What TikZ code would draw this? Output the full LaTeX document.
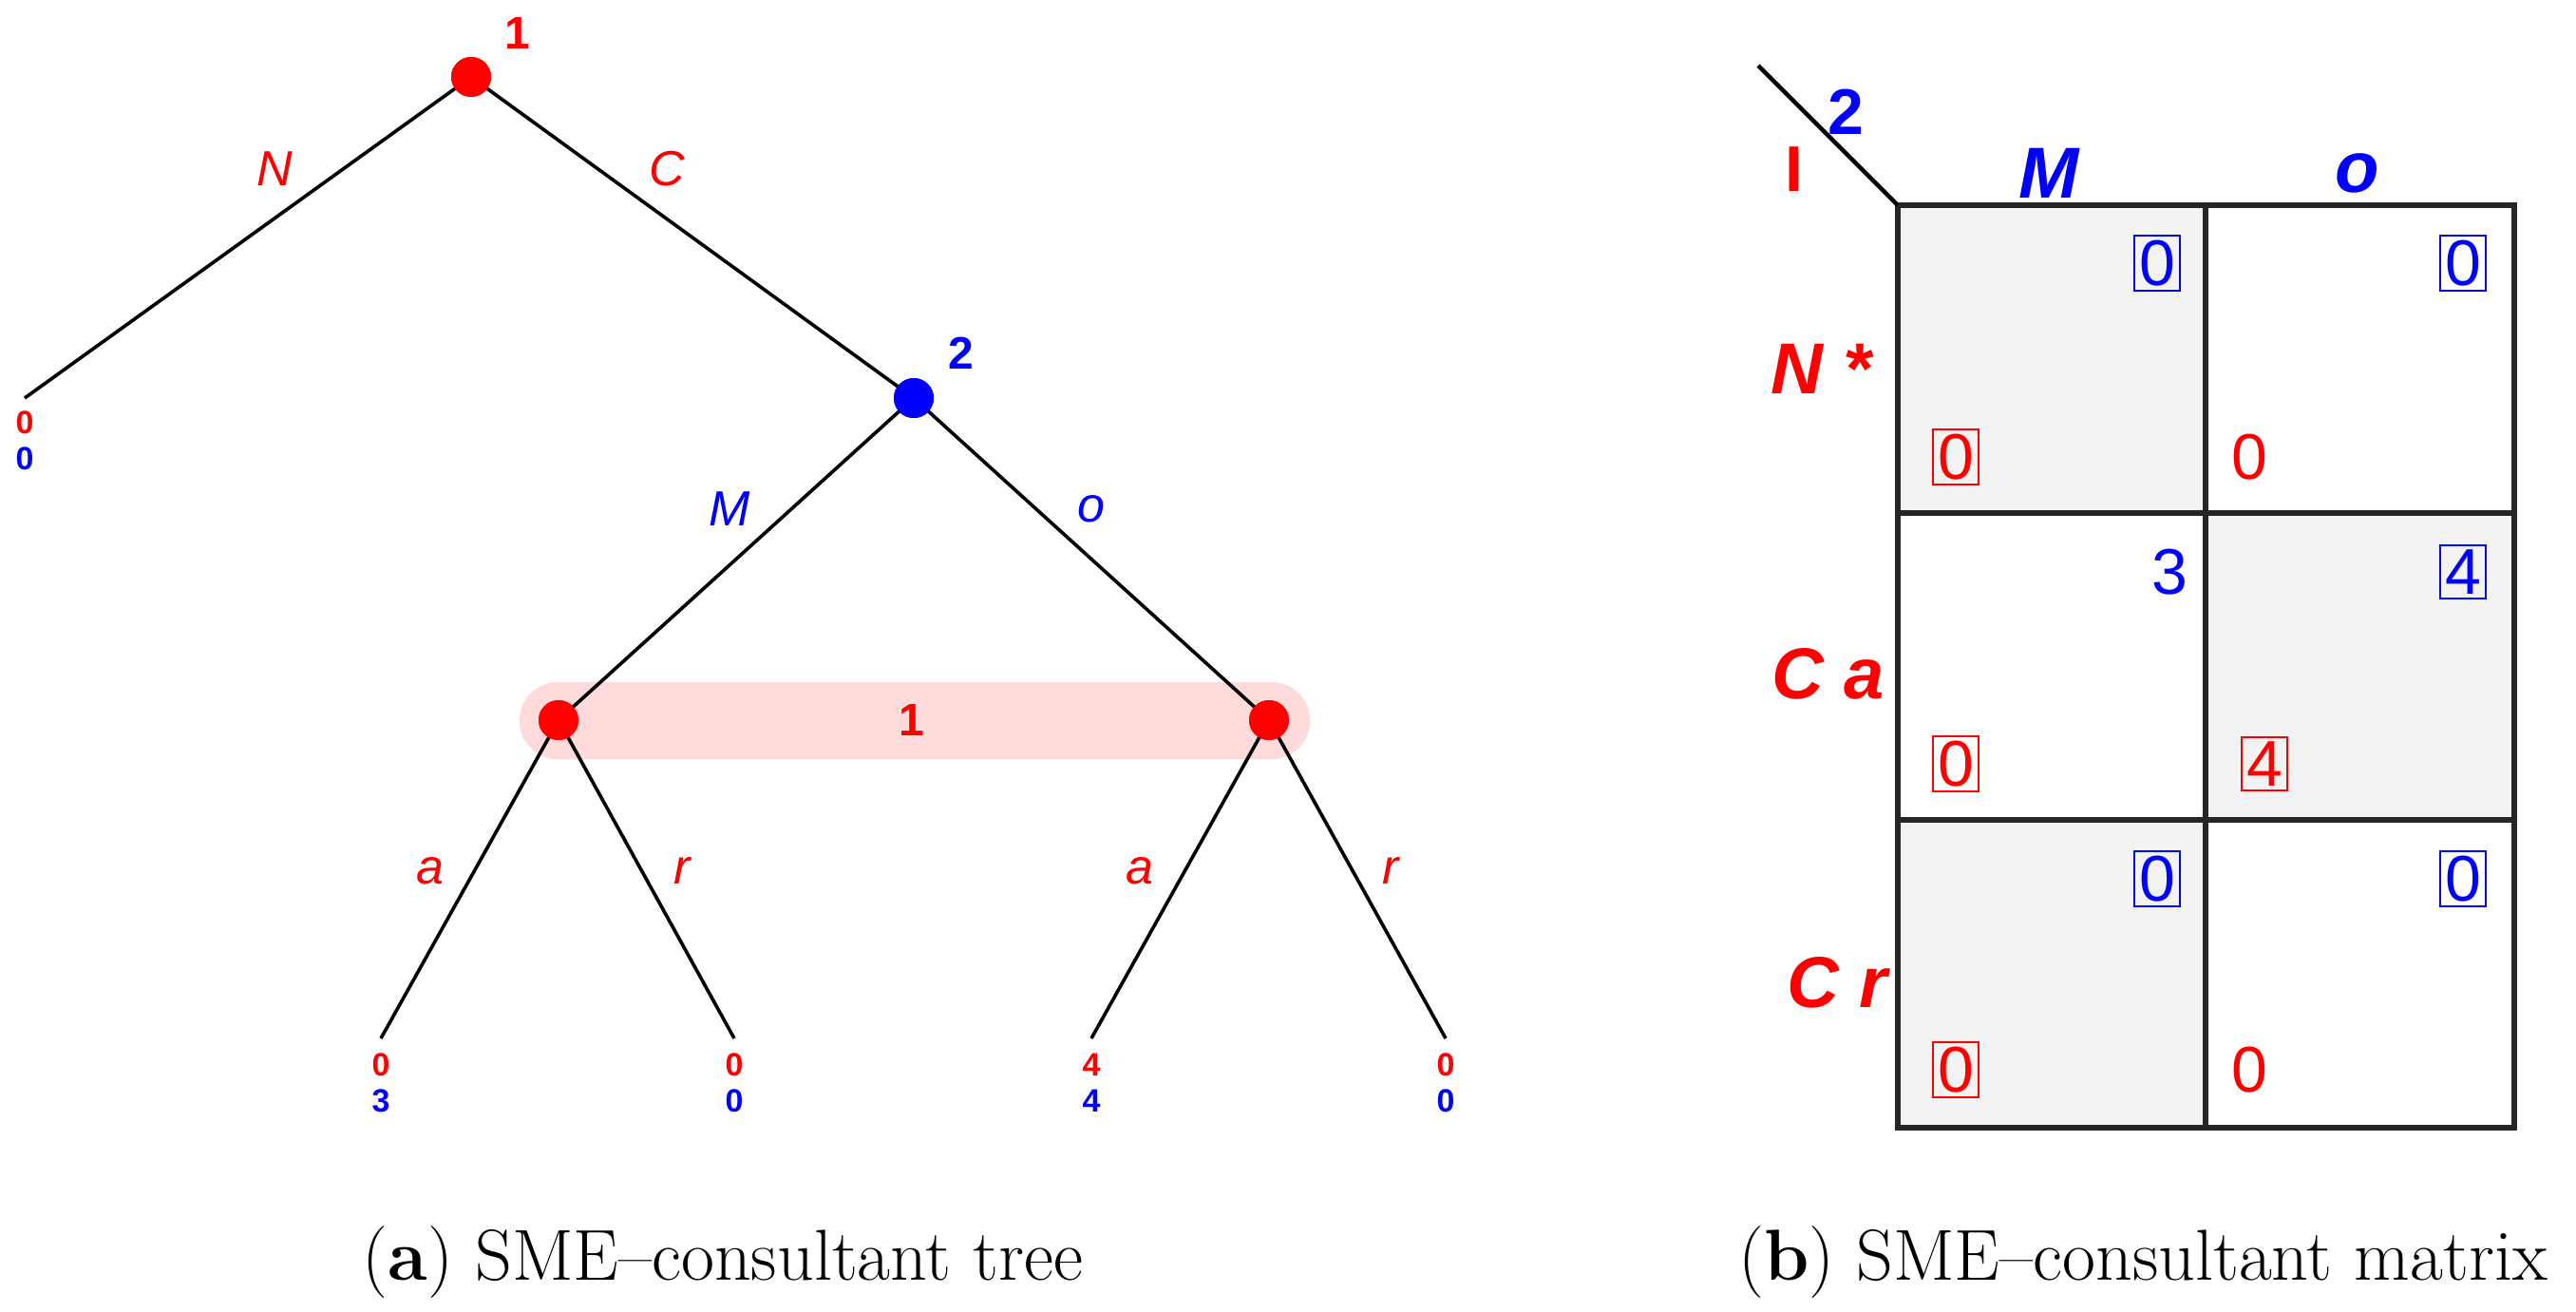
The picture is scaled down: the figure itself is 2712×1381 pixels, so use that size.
\documentclass[tikz,border=0pt]{standalone}
\usepackage{fontspec}
\setsansfont{Liberation Sans}
\definecolor{rd}{RGB}{255,0,0}
\definecolor{bl}{RGB}{0,0,255}
\definecolor{pinkband}{RGB}{255,218,218}
\definecolor{cellgray}{RGB}{243,243,243}
\begin{document}
\begin{tikzpicture}[x=0.25pt,y=-0.25pt,
  edge/.style={line width=0.9pt,black},
  dotnode/.style={circle,inner sep=0pt,minimum size=10.5pt},
  act/.style={font=\sffamily\itshape\fontsize{13}{13}\selectfont},
  plab/.style={font=\sffamily\bfseries\fontsize{12}{12}\selectfont},
  pay/.style={font=\sffamily\bfseries\fontsize{8.5}{8.5}\selectfont,inner sep=0pt},
  mnum/.style={font=\sffamily\fontsize{17}{17}\selectfont,inner sep=1.2pt},
  mbox/.style={mnum,draw,line width=0.5pt},
  mlab/.style={font=\sffamily\bfseries\itshape\fontsize{19}{19}\selectfont},
  captext/.style={font=\fontsize{19}{19}\selectfont}]
\useasboundingbox (0,0) rectangle (2712,1381);
% info set band
\fill[pinkband,rounded corners=10pt] (547,718) rectangle (1379,799);
\node[plab,text=rd] (isl) at (960,758) {1};
% nodes
\node[dotnode,fill=rd] (r) at (496,81) {};
\node[dotnode,fill=bl] (n2) at (962,419) {};
\node[dotnode,fill=rd] (l1) at (588,758) {};
\node[dotnode,fill=rd] (l2) at (1336,758) {};
\coordinate (tN) at (26,419);
\coordinate (t1) at (401,1093);
\coordinate (t2) at (773,1093);
\coordinate (t3) at (1149,1093);
\coordinate (t4) at (1522,1093);
\draw[edge] (r.center) -- (tN);
\draw[edge] (r.center) -- (n2.center);
\draw[edge] (n2.center) -- (l1.center);
\draw[edge] (n2.center) -- (l2.center);
\draw[edge] (l1.center) -- (t1);
\draw[edge] (l1.center) -- (t2);
\draw[edge] (l2.center) -- (t3);
\draw[edge] (l2.center) -- (t4);
\node[dotnode,fill=rd] at (r) {};
\node[dotnode,fill=bl] at (n2) {};
\node[dotnode,fill=rd] at (l1) {};
\node[dotnode,fill=rd] at (l2) {};
\node[plab,text=rd] (lr) at (545,35) {1};
\node[plab,text=bl] (l2lab) at (1012,372) {2};
\node[act,text=rd] (aN) at (289,178) {N};
\node[act,text=rd] (aC) at (702,178) {C};
\node[act,text=bl] (aM) at (768,536) {M};
\node[act,text=bl] (ao) at (1149,536) {o};
\node[act,text=rd] (a1) at (453,917) {a};
\node[act,text=rd] (a2) at (718,917) {r};
\node[act,text=rd] (a3) at (1200,917) {a};
\node[act,text=rd] (a4) at (1464,917) {r};
% payoffs
\foreach \x/\p/\q [count=\i] in {26/0/0,401/0/3,773/0/0,1149/4/4,1522/0/0}{
  \pgfmathsetmacro{\yy}{\i==1 ? 445 : 1121}
  \pgfmathsetmacro{\yz}{\i==1 ? 483 : 1159}
  \node[pay,text=rd] (pa\i) at (\x,\yy) {\p};
  \node[pay,text=bl] (pb\i) at (\x,\yz) {\q};
}
\node[captext] (capa) at (761,1329) {(\textbf{a}) SME--consultant tree};
% matrix
\fill[cellgray] (1998,216) rectangle (2322,540);
\fill[cellgray] (2322,540) rectangle (2647,863);
\fill[cellgray] (1998,863) rectangle (2322,1187);
\draw[line width=1.3pt,black!85] (1998,216) rectangle (2647,1187);
\draw[line width=1.3pt,black!85] (2322,216) -- (2322,1187);
\draw[line width=1.3pt,black!85] (1998,540) -- (2647,540);
\draw[line width=1.3pt,black!85] (1998,863) -- (2647,863);
\coordinate (corner) at (1998,216);
\coordinate (diagend) at (1851,69);
\draw[line width=1.1pt] (diagend) -- (corner);
\node[mlab,text=bl,font=\sffamily\bfseries\fontsize{17}{17}\selectfont] (h2) at (1943,118) {2};
\node[mlab,text=rd,font=\sffamily\bfseries\fontsize{17}{17}\selectfont] (h1) at (1889,178) {I};
\node[mlab,text=bl] (cM) at (2157,182) {M};
\node[mlab,text=bl] (co) at (2482,182) {o};
\node[mlab,text=rd] (rN) at (1917,388) {N *};
\node[mlab,text=rd] (rCa) at (1925,709) {C a};
\node[mlab,text=rd] (rCr) at (1934,1034) {C r};
% cell payoffs
\node[mbox,text=bl,draw=bl] (b11) at (2271,277) {0};
\node[mbox,text=rd,draw=rd] (a11) at (2059,481) {0};
\node[mbox,text=bl,draw=bl] (b12) at (2593,277) {0};
\node[mnum,text=rd] (a12) at (2368,481) {0};
\node[mnum,text=bl] (b21) at (2284,602) {3};
\node[mbox,text=rd,draw=rd] (a21) at (2059,804) {0};
\node[mbox,text=bl,draw=bl] (b22) at (2593,602) {4};
\node[mbox,text=rd,draw=rd] (a22) at (2384,804) {4};
\node[mbox,text=bl,draw=bl] (b31) at (2271,925) {0};
\node[mbox,text=rd,draw=rd] (a31) at (2059,1126) {0};
\node[mbox,text=bl,draw=bl] (b32) at (2593,925) {0};
\node[mnum,text=rd] (a32) at (2368,1126) {0};
\node[captext] (capb) at (2256,1329) {(\textbf{b}) SME--consultant matrix};
\end{tikzpicture}
\end{document}
